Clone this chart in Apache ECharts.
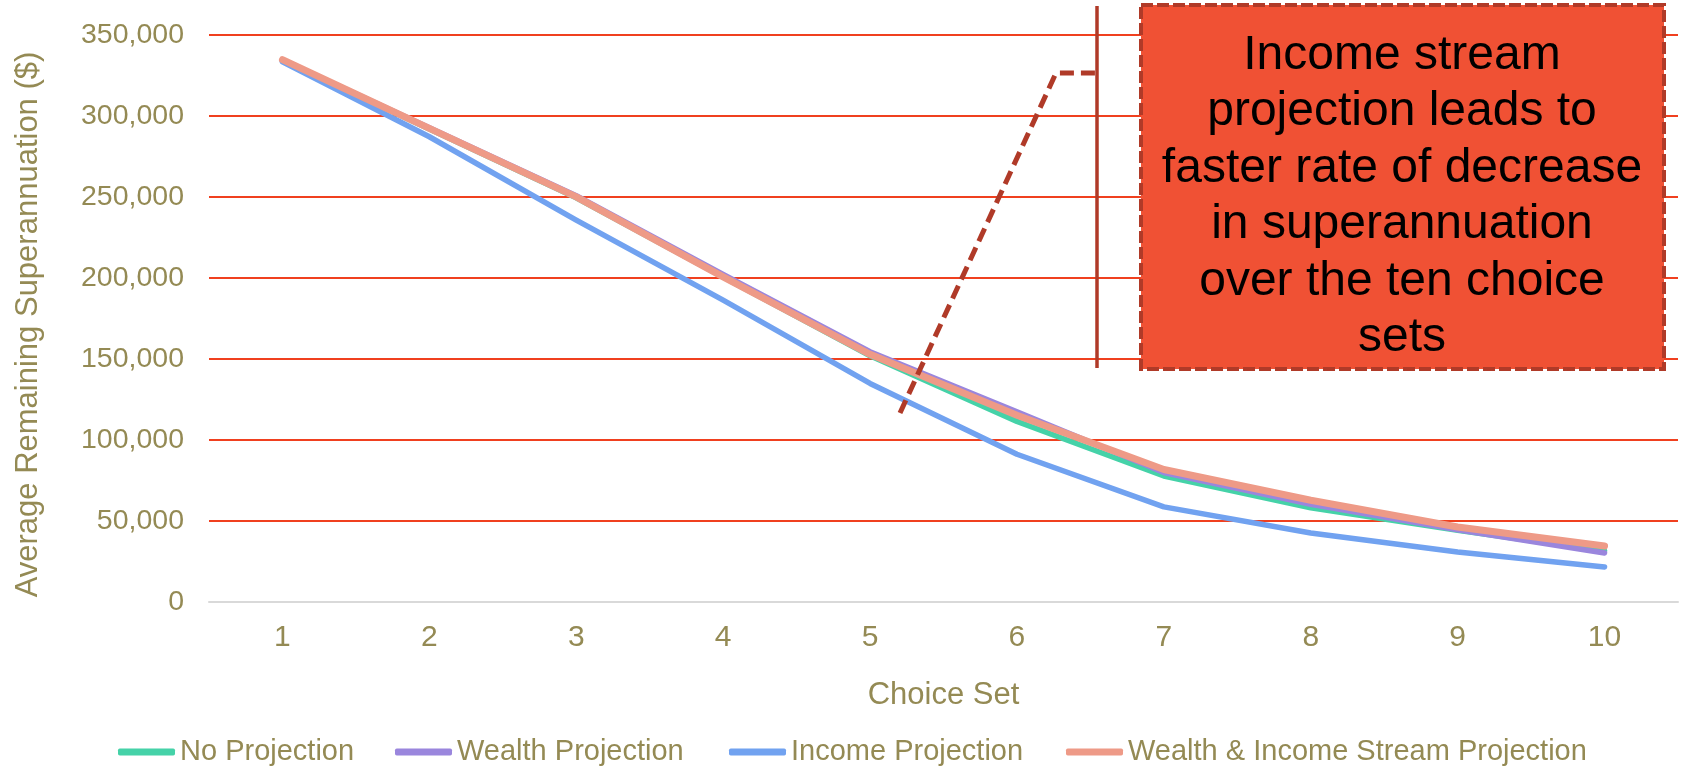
<!DOCTYPE html>
<html>
<head>
<meta charset="utf-8">
<title>Average Remaining Superannuation by Choice Set</title>
<script src="https://cdn.jsdelivr.net/npm/echarts@6/dist/echarts.min.js"></script>
<style>
  html, body { margin: 0; padding: 0; background: #ffffff; }
  #chart { width: 1681px; height: 768px; }
</style>
</head>
<body>
<div id="chart"></div>
<script>
// Choice sets on the x axis
const choiceSets = ['1', '2', '3', '4', '5', '6', '7', '8', '9', '10'];

// Average remaining superannuation ($) per treatment
const noProjection = [334500, 292000, 249500, 200500, 152000, 111500, 77800, 58100, 44300, 31500];
const wealthProjection = [334500, 292800, 250800, 202200, 154500, 117400, 79900, 60300, 44500, 30300];
const incomeProjection = [333500, 287200, 235700, 186300, 134900, 91200, 58700, 42600, 30900, 21600];
const wealthIncomeProjection = [334800, 292400, 250100, 200700, 152900, 115300, 81800, 62800, 46300, 34600];

const seriesNames = ['No Projection', 'Wealth Projection', 'Income Projection', 'Wealth & Income Stream Projection'];

const calloutLines = [
  'Income stream',
  'projection leads to',
  'faster rate of decrease',
  'in superannuation',
  'over the ten choice',
  'sets'
];

const FONT = '"Liberation Sans", Arial, sans-serif';
const OLIVE = '#948A54';
const COLORS = ['#45D2A8', '#9A86DD', '#71A2F0', '#EE9A87'];
const ACCENT = '#B03A28';

const chart = echarts.init(document.getElementById('chart'), null, { renderer: 'canvas' });

function lineSeries(name, data, color, width) {
  return {
    name: name,
    type: 'line',
    data: data,
    showSymbol: false,
    symbol: 'none',
    lineStyle: { color: color, width: width, cap: 'round', join: 'round' },
    itemStyle: { color: color },
    emphasis: { disabled: true }
  };
}

function legendAt(name, left) {
  return {
    data: [name],
    left: left,
    top: 737,
    padding: 0,
    icon: 'roundRect',
    itemWidth: 57,
    itemHeight: 7,
    selectedMode: false,
    textStyle: { color: OLIVE, fontSize: 29, fontFamily: FONT, lineHeight: 30 }
  };
}

const option = {
  backgroundColor: '#ffffff',
  animation: false,
  grid: { left: 209, right: 3, top: 35, bottom: 166 },
  legend: [
    legendAt(seriesNames[0], 118),
    legendAt(seriesNames[1], 395),
    legendAt(seriesNames[2], 729),
    legendAt(seriesNames[3], 1066)
  ],
  xAxis: {
    type: 'category',
    data: choiceSets,
    boundaryGap: true,
    name: 'Choice Set',
    nameLocation: 'middle',
    nameGap: 78,
    nameTextStyle: { color: OLIVE, fontSize: 31, fontFamily: FONT },
    axisLine: { show: true, lineStyle: { color: '#D9D9D9', width: 2 } },
    axisTick: { show: false },
    axisLabel: { color: OLIVE, fontSize: 30, fontFamily: FONT, margin: 21 },
    splitLine: { show: false }
  },
  yAxis: {
    type: 'value',
    min: 0,
    max: 350000,
    interval: 50000,
    name: 'Average Remaining Superannuation ($)',
    nameLocation: 'middle',
    nameGap: 165,
    nameTextStyle: { color: OLIVE, fontSize: 31, fontFamily: FONT, padding: [0, 12, 0, 0] },
    axisLine: { show: false },
    axisTick: { show: false },
    axisLabel: {
      color: OLIVE, fontSize: 28.5, fontFamily: FONT, margin: 25,
      formatter: v => v.toLocaleString('en-US')
    },
    splitLine: { show: true, lineStyle: { color: '#F0401F', width: 2 } }
  },
  series: [
    lineSeries(seriesNames[0], noProjection, COLORS[0], 5.5),
    lineSeries(seriesNames[1], wealthProjection, COLORS[1], 5.5),
    lineSeries(seriesNames[2], incomeProjection, COLORS[2], 5.5),
    lineSeries(seriesNames[3], wealthIncomeProjection, COLORS[3], 7)
  ],
  graphic: [
    // bracket leader: dashed elbow pointing down at the income line
    {
      type: 'polyline',
      z: 100,
      shape: { points: [[900, 413], [1056, 73], [1097, 73]] },
      style: { fill: null, stroke: ACCENT, lineWidth: 5, lineDash: [14, 7] }
    },
    {
      type: 'line',
      z: 100,
      shape: { x1: 1097, y1: 6, x2: 1097, y2: 368 },
      style: { stroke: ACCENT, lineWidth: 3.5 }
    },
    // callout box
    {
      type: 'rect',
      z: 100,
      shape: { x: 1141, y: 5, width: 523, height: 364 },
      style: { fill: '#F05134', stroke: ACCENT, lineWidth: 4, lineDash: [12, 4] }
    },
    {
      type: 'text',
      z: 101,
      x: 1402,
      y: 197,
      style: {
        text: calloutLines.join('\n'),
        fill: '#000000',
        font: '48px ' + FONT,
        lineHeight: 56.5,
        align: 'center',
        verticalAlign: 'middle'
      }
    }
  ]
};

chart.setOption(option);
</script>
</body>
</html>
